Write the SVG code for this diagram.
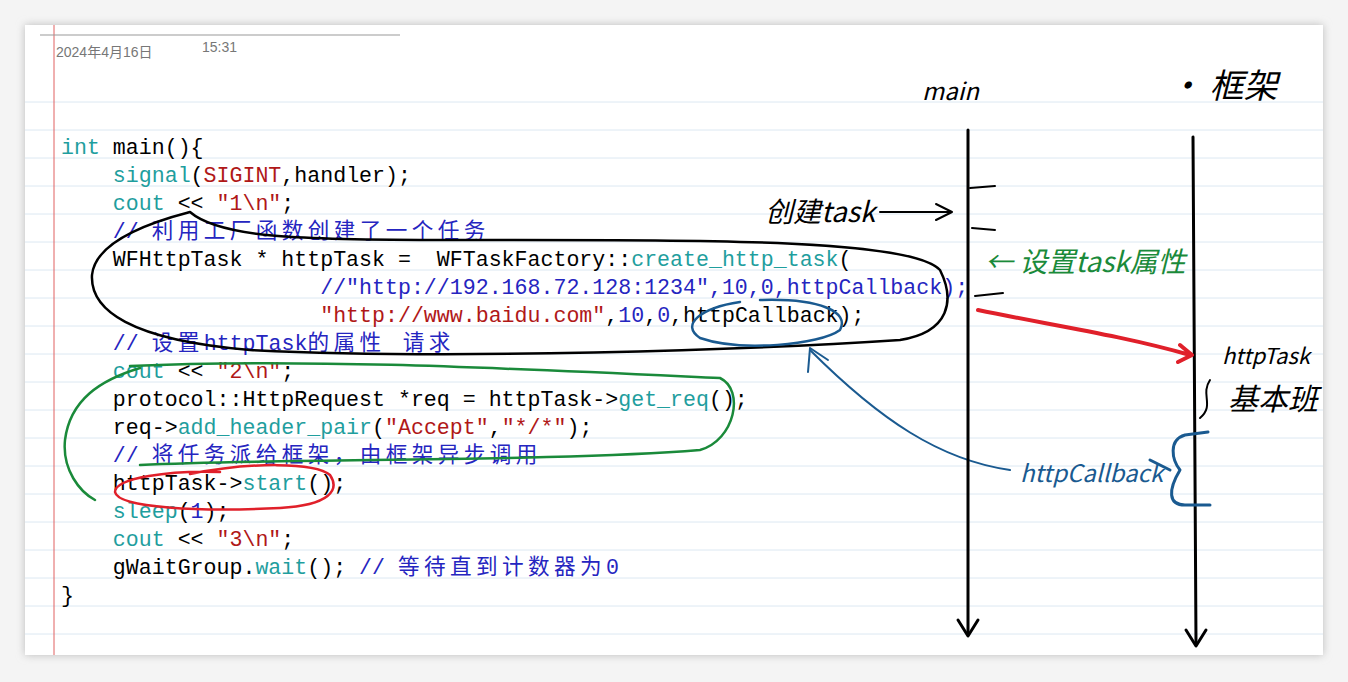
<svg xmlns="http://www.w3.org/2000/svg" width="1348" height="682" viewBox="0 0 1348 682">
<defs>
<filter id="sh" x="-5%" y="-5%" width="110%" height="110%"><feGaussianBlur stdDeviation="4"/></filter>
</defs>
<style>
.c{font-family:"Liberation Mono","Noto Sans CJK SC",monospace;font-size:21.6px;fill:#000;white-space:pre}
.k{fill:#1f9e9e}.s{fill:#b01818}.m{fill:#2525c0}
.z{letter-spacing:4.4px}
.h{font-family:"Comic Sans MS","Noto Sans CJK SC",sans-serif;font-style:italic}
.ink{fill:none;stroke-linecap:round;stroke-linejoin:round}
.rule{stroke:#dce8f2;stroke-width:1}
</style>
<rect width="1348" height="682" fill="#f4f4f4"/>
<rect x="25" y="25" width="1298" height="630" fill="#bbb" filter="url(#sh)"/>
<rect x="25" y="25" width="1298" height="630" fill="#fff"/>
<g>
<line class="rule" x1="25" y1="102" x2="1323" y2="102"/><line class="rule" x1="25" y1="130" x2="1323" y2="130"/>
<line class="rule" x1="25" y1="158" x2="1323" y2="158"/><line class="rule" x1="25" y1="186" x2="1323" y2="186"/>
<line class="rule" x1="25" y1="214" x2="1323" y2="214"/><line class="rule" x1="25" y1="242" x2="1323" y2="242"/>
<line class="rule" x1="25" y1="270" x2="1323" y2="270"/><line class="rule" x1="25" y1="298" x2="1323" y2="298"/>
<line class="rule" x1="25" y1="326" x2="1323" y2="326"/><line class="rule" x1="25" y1="354" x2="1323" y2="354"/>
<line class="rule" x1="25" y1="382" x2="1323" y2="382"/><line class="rule" x1="25" y1="410" x2="1323" y2="410"/>
<line class="rule" x1="25" y1="438" x2="1323" y2="438"/><line class="rule" x1="25" y1="466" x2="1323" y2="466"/>
<line class="rule" x1="25" y1="494" x2="1323" y2="494"/><line class="rule" x1="25" y1="522" x2="1323" y2="522"/>
<line class="rule" x1="25" y1="550" x2="1323" y2="550"/><line class="rule" x1="25" y1="578" x2="1323" y2="578"/>
<line class="rule" x1="25" y1="606" x2="1323" y2="606"/><line class="rule" x1="25" y1="634" x2="1323" y2="634"/>
</g>
<line x1="54" y1="25" x2="54" y2="655" stroke="#e06060" stroke-width="1"/>
<line x1="40" y1="35" x2="400" y2="35" stroke="#999" stroke-width="1"/>
<text x="56" y="57" font-family="'Liberation Sans','Noto Sans CJK SC',sans-serif" font-size="14" fill="#777">2024年4月16日</text>
<text x="202" y="52" font-family="'Liberation Sans',sans-serif" font-size="14" fill="#777">15:31</text>
<g>
<text class="c" x="61" y="154"><tspan class="k">int</tspan> main(){</text>
<text class="c" x="61" y="182">    <tspan class="k">signal</tspan>(<tspan class="s">SIGINT</tspan>,handler);</text>
<text class="c" x="61" y="210">    <tspan class="k">cout</tspan> &lt;&lt; <tspan class="s">"1\n"</tspan>;</text>
<text class="c m" x="61" y="238">    // <tspan class="z">利用工厂函数创建了一个任务</tspan></text>
<text class="c" x="61" y="266">    WFHttpTask * httpTask =  WFTaskFactory::<tspan class="k">create_http_task</tspan>(</text>
<text class="c m" x="61" y="294">                    //"http://192.168.72.128:1234",10,0,httpCallback);</text>
<text class="c" x="61" y="322">                    <tspan class="s">"http://www.baidu.com"</tspan>,<tspan class="m">10</tspan>,<tspan class="m">0</tspan>,httpCallback);</text>
<text class="c m" x="61" y="350">    // <tspan class="z">设置</tspan>httpTask<tspan class="z">的属性 请求</tspan></text>
<text class="c" x="61" y="378">    <tspan class="k">cout</tspan> &lt;&lt; <tspan class="s">"2\n"</tspan>;</text>
<text class="c" x="61" y="406">    protocol::HttpRequest *req = httpTask-&gt;<tspan class="k">get_req</tspan>();</text>
<text class="c" x="61" y="434">    req-&gt;<tspan class="k">add_header_pair</tspan>(<tspan class="s">"Accept"</tspan>,<tspan class="s">"*/*"</tspan>);</text>
<text class="c m" x="61" y="462">    // <tspan class="z">将任务派给框架，由框架异步调用</tspan></text>
<text class="c" x="61" y="490">    httpTask-&gt;<tspan class="k">start</tspan>();</text>
<text class="c" x="61" y="518">    <tspan class="k">sleep</tspan>(<tspan class="m">1</tspan>);</text>
<text class="c" x="61" y="546">    <tspan class="k">cout</tspan> &lt;&lt; <tspan class="s">"3\n"</tspan>;</text>
<text class="c" x="61" y="574">    gWaitGroup.<tspan class="k">wait</tspan>(); <tspan class="m">// <tspan class="z">等待直到计数器为</tspan>0</tspan></text>
<text class="c" x="61" y="602">}</text>
</g>
<g class="ink">
<path d="M190,212 C140,225 95,245 92,275 C90,310 130,340 250,350 C450,360 750,350 900,340 C950,332 955,300 940,270 C910,238 700,240 450,240 C300,240 220,238 190,212" stroke="#000" stroke-width="2.5"/>
<path d="M140,368 C100,380 70,400 65,440 C62,470 80,492 95,500 M130,366 C300,358 500,368 720,378 C745,390 735,440 700,450 C550,462 300,458 140,465" stroke="#1a8a3a" stroke-width="2.5"/>
<path d="M220,472 C170,470 115,478 115,492 C118,508 200,512 280,508 C330,505 340,490 330,475 C315,462 250,462 190,474" stroke="#e0202a" stroke-width="2.5"/>
<path d="M740,302 C700,308 680,325 700,338 C740,352 820,345 840,330 C850,312 820,298 760,300" stroke="#1a5a90" stroke-width="2.5"/>
<path d="M1010,470 C940,460 880,420 810,350" stroke="#1a5a90" stroke-width="2"/>
<path d="M808,372 L810,348 L828,360" stroke="#1a5a90" stroke-width="2"/>
</g>
<g class="ink" stroke="#000" stroke-width="3">
<line x1="968" y1="130" x2="968" y2="633"/><path d="M958,620 L968,636 L978,620"/>
<line x1="1193" y1="137" x2="1196" y2="643"/><path d="M1186,630 L1196,646 L1206,630"/>
<path d="M970,188 L995,186 M972,228 L995,230 M975,296 L1003,293" stroke-width="2"/>
<path d="M880,212 L950,212 M936,204 L952,212 L936,220" stroke-width="2"/>
</g>
<text x="922" y="100" class="h" font-size="24" fill="#000">main</text>
<text x="1168" y="98" class="h" font-size="34" fill="#000">· 框架</text>
<text x="765" y="222" class="h" font-size="28" fill="#000">创建task</text>
<text x="985" y="272" class="h" font-size="28" fill="#1a8a3a">← 设置task属性</text>
<path d="M978,310 C1050,325 1120,335 1190,355 M1180,345 L1192,355 L1178,362" class="ink" stroke="#e0202a" stroke-width="4"/>
<text x="1222" y="364" class="h" font-size="22" fill="#000">httpTask</text>
<text x="1228" y="410" class="h" font-size="30" fill="#000">基本班</text>
<path d="M1210,380 C1200,395 1215,405 1200,418" class="ink" stroke="#000" stroke-width="2"/>
<text x="1020" y="482" class="h" font-size="24" fill="#1a5a90">httpCallback</text>
<path d="M1208,432 L1185,435 C1168,440 1172,460 1180,470 C1168,490 1168,505 1185,505 L1210,505 M1150,460 L1170,470" class="ink" stroke="#1a5a90" stroke-width="3"/>
</svg>
